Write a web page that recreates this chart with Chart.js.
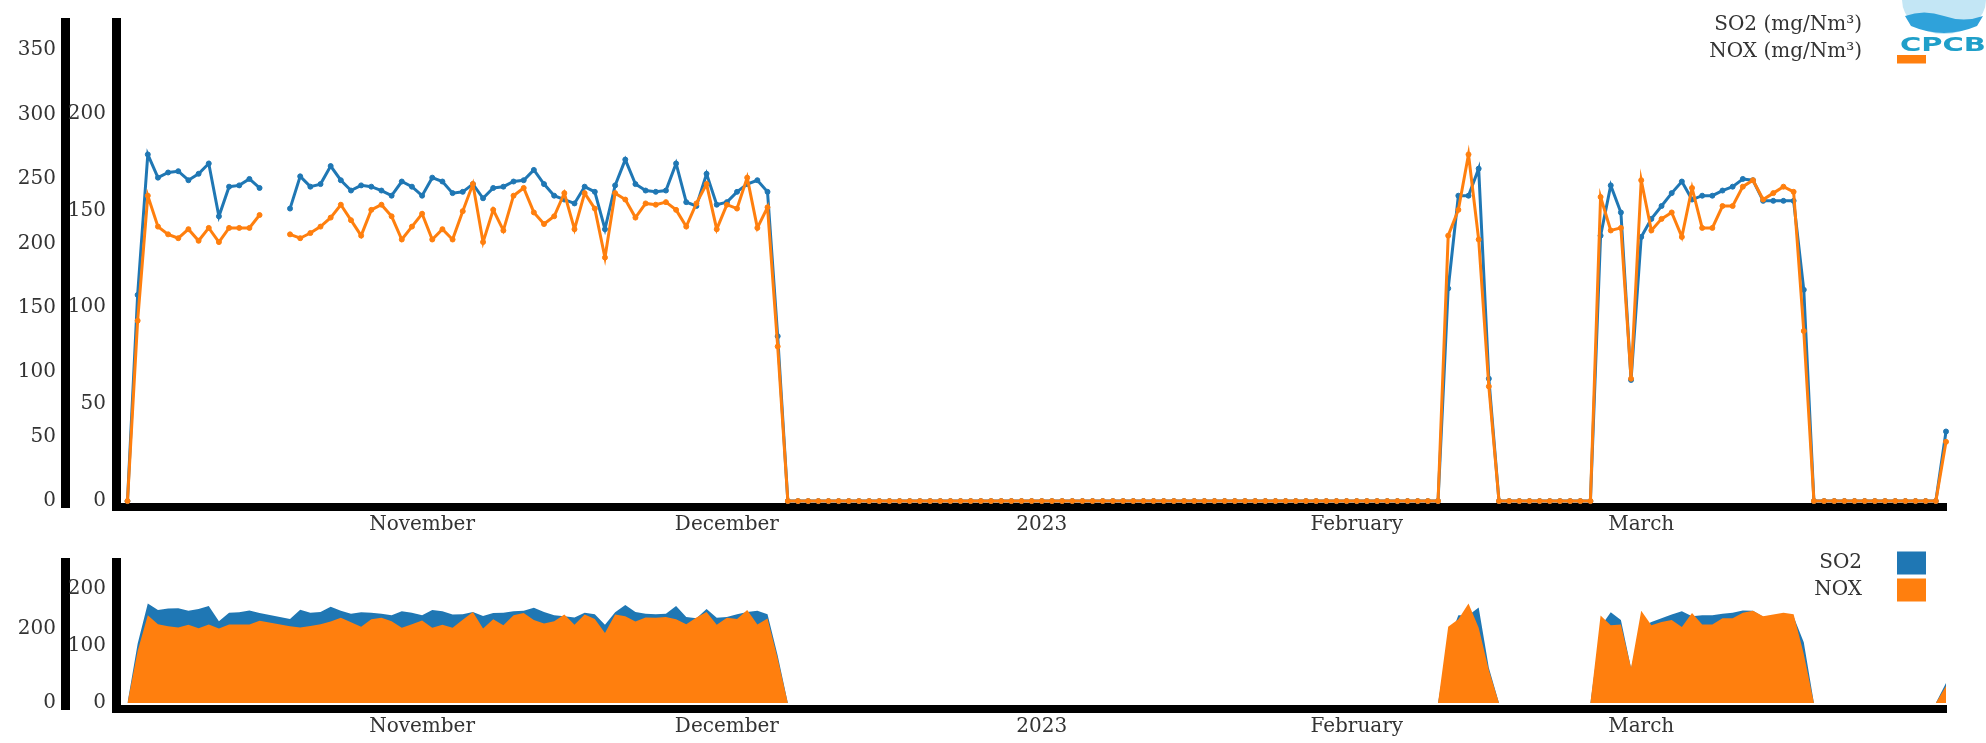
<!DOCTYPE html>
<html>
<head>
<meta charset="utf-8">
<script src="https://cdn.jsdelivr.net/npm/chart.js@4.4.1/dist/chart.umd.min.js"></script>
<style>
  html, body { margin: 0; padding: 0; background: #fff; }
  #wrap { position: relative; width: 1986px; height: 743px; overflow: hidden; }
  #lineChart { position: absolute; left: 0; top: 0; }
  #areaChart { position: absolute; left: 0; top: 540px; }
</style>
</head>
<body>
<div id="wrap">
  <canvas id="lineChart" width="1986" height="540"></canvas>
  <canvas id="areaChart" width="1986" height="203"></canvas>
</div>
<script>
// daily values, day 0 = 2022-10-03, last day = 2023-03-31
const so2 = [
    0, 160, 269, 251, 255, 256, 249, 254, 262, 221,
  244, 245, 250, 243, null, null, 227, 252, 244, 246,
  260, 249, 241, 245, 244, 241, 237, 248, 244, 237,
  251, 248, 239, 240, 246, 235, 243, 244, 248, 249,
  257, 246, 237, 234, 231, 244, 240, 211, 245, 265,
  246, 241, 240, 241, 262, 232, 229, 254, 230, 232,
  240, 246, 249, 240, 128,   0,   0,   0,   0,   0,
    0,   0,   0,   0,   0,   0,   0,   0,   0,   0,
    0,   0,   0,   0,   0,   0,   0,   0,   0,   0,
    0,   0,   0,   0,   0,   0,   0,   0,   0,   0,
    0,   0,   0,   0,   0,   0,   0,   0,   0,   0,
    0,   0,   0,   0,   0,   0,   0,   0,   0,   0,
    0,   0,   0,   0,   0,   0,   0,   0,   0,   0,
  165, 237, 237, 258,  95,   0,   0,   0,   0,   0,
    0,   0,   0,   0,   0, 206, 245, 224,  94, 205,
  219, 229, 239, 248, 234, 237, 237, 241, 244, 250,
  249, 233, 233, 233, 233, 164,   0,   0,   0,   0,
    0,   0,   0,   0,   0,   0,   0,   0,   0,  54
];
const nox = [
    0, 140, 237, 213, 207, 204, 211, 202, 212, 201,
  212, 212, 212, 222, null, null, 207, 204, 208, 213,
  220, 230, 218, 206, 226, 230, 221, 203, 213, 223,
  203, 211, 203, 225, 246, 201, 226, 210, 237, 243,
  224, 215, 221, 239, 211, 239, 227, 189, 239, 234,
  220, 231, 230, 232, 226, 213, 231, 246, 211, 230,
  227, 251, 212, 228, 120,   0,   0,   0,   0,   0,
    0,   0,   0,   0,   0,   0,   0,   0,   0,   0,
    0,   0,   0,   0,   0,   0,   0,   0,   0,   0,
    0,   0,   0,   0,   0,   0,   0,   0,   0,   0,
    0,   0,   0,   0,   0,   0,   0,   0,   0,   0,
    0,   0,   0,   0,   0,   0,   0,   0,   0,   0,
    0,   0,   0,   0,   0,   0,   0,   0,   0,   0,
  206, 226, 269, 203,  89,   0,   0,   0,   0,   0,
    0,   0,   0,   0,   0, 236, 210, 212,  95, 249,
  210, 219, 224, 205, 243, 212, 212, 229, 229, 244,
  249, 234, 239, 244, 240, 132,   0,   0,   0,   0,
    0,   0,   0,   0,   0,   0,   0,   0,   0,  46
];

const monthTickDays = [29, 59, 90, 121, 149];
const monthTickLabels = ['November', 'December', '2023', 'February', 'March'];
const topOuterTicks = [0, 50, 100, 150, 200, 250, 300, 350];
const topInnerTicks = [0, 50, 100, 150, 200];
const bottomOuterTicks = [0, 200];
const bottomInnerTicks = [0, 100, 200];
const topLegendLabels = ['SO2 (mg/Nm³)', 'NOX (mg/Nm³)'];
const bottomLegendLabels = ['SO2', 'NOX'];

const BLUE = '#1f77b4';
const ORANGE = '#ff7f0e';
const TEXT = '#333';
const serif = '"DejaVu Serif", "Liberation Serif", serif';
const tickFont = { family: serif, size: 20 };

const toPoints = arr => arr.map((v, i) => ({ x: i, y: v }));

function fixedTicks(values) {
    return s => { s.ticks = values.map(v => ({ value: v })); };
}

function dayAxis(height) {
    return {
        type: 'linear',
        min: -1.13,
        max: 179.0,
        afterBuildTicks: fixedTicks(monthTickDays),
        afterFit: s => { s.height = height; },
        grid: { display: false, drawTicks: false },
        border: { display: true, color: '#000', width: 8 },
        ticks: {
            autoSkip: false,
            maxRotation: 0,
            padding: 6,
            color: TEXT,
            font: tickFont,
            callback: (v, i) => monthTickLabels[i]
        }
    };
}

function valueAxis(min, max, ticks, width, weight, padding) {
    return {
        type: 'linear',
        position: 'left',
        weight,
        min,
        max,
        afterBuildTicks: fixedTicks(ticks),
        afterFit: s => { s.width = width; },
        grid: { display: false, drawTicks: false },
        border: { display: true, color: '#000', width: 9 },
        ticks: { padding, color: TEXT, font: tickFont }
    };
}

// legend: text right-aligned, colour box on its right
const keyPlugin = {
    id: 'sideKey',
    afterDraw(chart, args, opts) {
        const ctx = chart.ctx;
        ctx.save();
        ctx.font = `20px ${serif}`;
        ctx.textAlign = 'right';
        ctx.textBaseline = 'middle';
        opts.labels.forEach((label, i) => {
            const y = opts.rows[i];
            ctx.fillStyle = TEXT;
            ctx.fillText(label, opts.textRight, y);
            ctx.fillStyle = opts.colors[i];
            ctx.fillRect(opts.boxX, y - 11.5, 29, 23);
        });
        ctx.restore();
    }
};

// CPCB watermark over the top-right corner
const logoPlugin = {
    id: 'logo',
    afterDraw(chart) {
        const ctx = chart.ctx;
        ctx.save();
        ctx.fillStyle = '#fff';
        ctx.fillRect(1894, 0, 92, 55);
        ctx.fillStyle = '#c3e6f5';
        ctx.beginPath();
        ctx.ellipse(1944, 0, 42, 34, 0, 0, Math.PI);
        ctx.fill();
        ctx.fillStyle = '#2fa2da';
        ctx.beginPath();
        ctx.moveTo(1905, 16);
        ctx.quadraticCurveTo(1924, 9, 1944, 16);
        ctx.quadraticCurveTo(1964, 23, 1983, 16);
        ctx.lineTo(1977, 26);
        ctx.quadraticCurveTo(1944, 40, 1911, 26);
        ctx.closePath();
        ctx.fill();
        ctx.fillStyle = '#1f9fc9';
        ctx.font = 'bold 20px "DejaVu Sans", sans-serif';
        ctx.textAlign = 'center';
        ctx.textBaseline = 'middle';
        ctx.translate(1943, 46);
        ctx.scale(1.45, 1);
        ctx.fillText('CPCB', 0, 0);
        ctx.restore();
    }
};

new Chart(document.getElementById('lineChart'), {
    type: 'line',
    data: {
        datasets: [
            {
                label: topLegendLabels[0],
                data: toPoints(so2),
                yAxisID: 'outer',
                borderColor: BLUE,
                backgroundColor: BLUE,
                pointBackgroundColor: BLUE,
                pointBorderColor: BLUE,
                borderWidth: 3,
                pointRadius: 2.5,
                pointBorderWidth: 1,
                tension: 0,
                spanGaps: false,
                clip: false,
                order: 1
            },
            {
                label: topLegendLabels[1],
                data: toPoints(nox),
                yAxisID: 'outer',
                borderColor: ORANGE,
                backgroundColor: ORANGE,
                pointBackgroundColor: ORANGE,
                pointBorderColor: ORANGE,
                borderWidth: 3,
                pointRadius: 2.5,
                pointBorderWidth: 1,
                tension: 0,
                spanGaps: false,
                clip: false,
                order: 0
            }
        ]
    },
    options: {
        responsive: false,
        animation: false,
        events: [],
        layout: { padding: { left: 0, right: 40, top: 14, bottom: 0 } },
        scales: {
            x: dayAxis(33),
            outer: valueAxis(-4.6, 371.8, topOuterTicks, 65, 1, 9),
            inner: valueAxis(-3.05, 247.2, topInnerTicks, 51, 0, 10)
        },
        plugins: {
            legend: { display: false },
            tooltip: { enabled: false },
            sideKey: {
                labels: topLegendLabels,
                colors: [BLUE, ORANGE],
                rows: [25, 52],
                textRight: 1862,
                boxX: 1897
            }
        }
    },
    plugins: [keyPlugin, logoPlugin]
});

new Chart(document.getElementById('areaChart'), {
    type: 'line',
    data: {
        datasets: [
            {
                label: bottomLegendLabels[0],
                data: toPoints(so2),
                yAxisID: 'outer',
                borderWidth: 0,
                pointRadius: 0,
                backgroundColor: BLUE,
                fill: 'origin',
                spanGaps: true,
                tension: 0,
                order: 1
            },
            {
                label: bottomLegendLabels[1],
                data: toPoints(nox),
                yAxisID: 'outer',
                borderWidth: 0,
                pointRadius: 0,
                backgroundColor: ORANGE,
                fill: 'origin',
                spanGaps: true,
                tension: 0,
                order: 0
            }
        ]
    },
    options: {
        responsive: false,
        animation: false,
        events: [],
        layout: { padding: { left: 0, right: 40, top: 12, bottom: 0 } },
        scales: {
            x: dayAxis(34),
            outer: valueAxis(-16.5, 381, bottomOuterTicks, 65, 1, 9),
            inner: valueAxis(-10.7, 248, bottomInnerTicks, 51, 0, 10)
        },
        plugins: {
            legend: { display: false },
            tooltip: { enabled: false },
            sideKey: {
                labels: bottomLegendLabels,
                colors: [BLUE, ORANGE],
                rows: [23, 50],
                textRight: 1862,
                boxX: 1897
            }
        }
    },
    plugins: [keyPlugin]
});
</script>
</body>
</html>
